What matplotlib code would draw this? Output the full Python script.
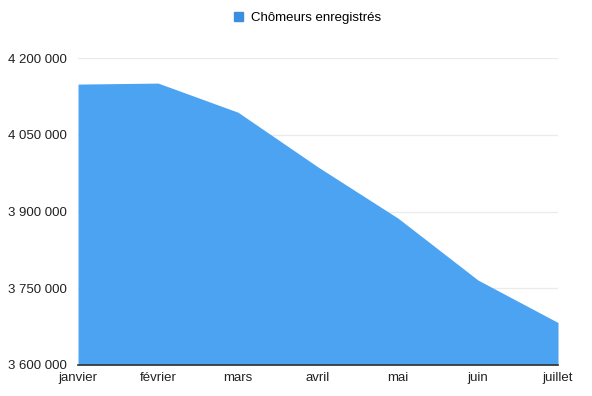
import matplotlib.pyplot as plt
from matplotlib.patches import Patch
from matplotlib.ticker import FuncFormatter

# mois et nombre de chômeurs enregistrés
mois = ['janvier', 'février', 'mars', 'avril', 'mai', 'juin', 'juillet']
chomeurs = [4149000, 4151000, 4094000, 3987000, 3887000, 3766000, 3683000]
y_ticks = [3600000, 3750000, 3900000, 4050000, 4200000]

plt.rcParams['font.family'] = ['Liberation Sans', 'DejaVu Sans']

fig = plt.figure(figsize=(5.92, 3.96), dpi=100)
ax = fig.add_axes([0.1318, 0.0783, 0.8108, 0.7752])

x = range(len(mois))
ax.fill_between(x, chomeurs, 3600000, color='#4ca3f2', linewidth=0)

ax.set_xlim(0, len(mois) - 1)
ax.set_ylim(3600000, 4200000)
ax.set_yticks(y_ticks)
ax.yaxis.set_major_formatter(FuncFormatter(lambda v, p: f"{v:,.0f}".replace(',', ' ')))
ax.set_xticks(list(x))
ax.set_xticklabels(mois)

ax.grid(axis='y', color='#ebebeb', linewidth=1)
ax.set_axisbelow(True)
for s in ['top', 'right', 'left']:
    ax.spines[s].set_visible(False)
ax.spines['bottom'].set_color('#333333')
ax.spines['bottom'].set_linewidth(1.2)
ax.spines['bottom'].set_zorder(5)
ax.tick_params(axis='both', length=0, labelsize=9.5, colors='#222222')
ax.tick_params(axis='y', pad=8)
ax.tick_params(axis='x', pad=5)

fig.legend(handles=[Patch(color='#3c8ee0', label='Chômeurs enregistrés')],
           loc='center', bbox_to_anchor=(0.52, 0.955), frameon=False,
           fontsize=9.5, handlelength=0.7, handleheight=0.7, handletextpad=0.6)

fig.savefig('out.png', dpi=100)
